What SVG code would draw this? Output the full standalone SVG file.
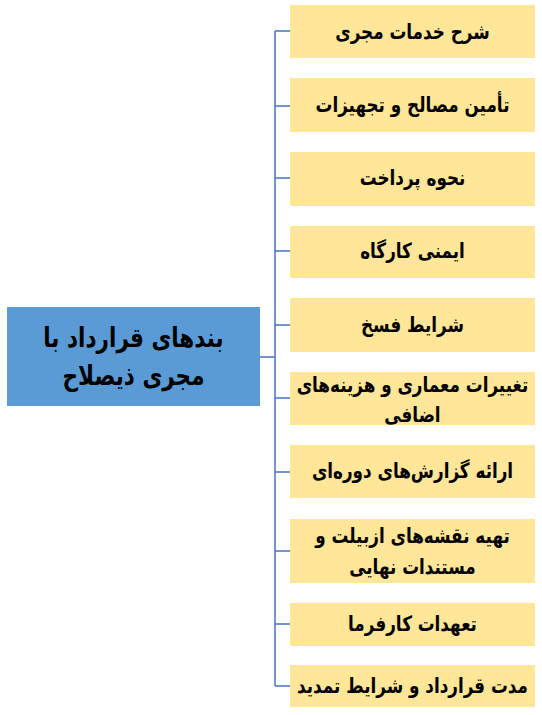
<svg xmlns="http://www.w3.org/2000/svg" width="542" height="715" viewBox="0 0 542 715">
<style>
.item{fill:#FFE699;}
.root{fill:#5B9BD5;}
.t{font-family:"DejaVu Sans",sans-serif;font-weight:bold;font-size:21px;fill:#000;text-anchor:middle;direction:rtl;dominant-baseline:central;}
.rt{font-size:27px;}
.c{stroke:#4A72C0;stroke-width:1.5;fill:none;}
</style>
<rect width="542" height="715" fill="#fff"/>
<g id="connectors">
<path class="c" d="M260 357H275M275 31V686"/>
<path class="c" d="M275 31H290M275 106H290M275 178H290M275 251H290M275 325H290M275 398H290M275 472H290M275 551H290M275 624H290M275 686H290"/>
</g>
<g id="root">
<rect class="root" x="7" y="307" width="253" height="99"/>
<g transform="matrix(0.8 0 0 1 26.7 0)">
<text class="t rt" x="133.5" y="338">بندهای قرارداد با</text>
<text class="t rt" x="133.5" y="376">مجری ذیصلاح</text>
</g>
</g>
<g id="n1"><rect class="item" x="290" y="5" width="245" height="53"/><g transform="matrix(0.8 0 0 1 82.5 0)"><text class="t" x="412.5" y="31">شرح خدمات مجری</text></g></g>
<g id="n2"><rect class="item" x="290" y="78" width="245" height="54"/><g transform="matrix(0.8 0 0 1 82.5 0)"><text class="t" x="412.5" y="104">تأمین مصالح و تجهیزات</text></g></g>
<g id="n3"><rect class="item" x="290" y="152" width="245" height="54"/><g transform="matrix(0.8 0 0 1 82.5 0)"><text class="t" x="412.5" y="177">نحوه پرداخت</text></g></g>
<g id="n4"><rect class="item" x="290" y="226" width="245" height="52"/><g transform="matrix(0.8 0 0 1 82.5 0)"><text class="t" x="412.5" y="250">ایمنی کارگاه</text></g></g>
<g id="n5"><rect class="item" x="290" y="298" width="245" height="54"/><g transform="matrix(0.8 0 0 1 82.5 0)"><text class="t" x="412.5" y="324">شرایط فسخ</text></g></g>
<g id="n6"><rect class="item" x="290" y="372" width="245" height="53"/><g transform="matrix(0.8 0 0 1 82.5 0)"><text class="t" x="412.5" y="384">تغییرات معماری و هزینه‌های</text><text class="t" x="412.5" y="414">اضافی</text></g></g>
<g id="n7"><rect class="item" x="290" y="445" width="245" height="53"/><g transform="matrix(0.8 0 0 1 82.5 0)"><text class="t" x="412.5" y="470">ارائه گزارش‌های دوره‌ای</text></g></g>
<g id="n8"><rect class="item" x="290" y="519" width="245" height="64"/><g transform="matrix(0.8 0 0 1 82.5 0)"><text class="t" x="412.5" y="535">تهیه نقشه‌های ازبیلت و</text><text class="t" x="412.5" y="566">مستندات نهایی</text></g></g>
<g id="n9"><rect class="item" x="290" y="603" width="245" height="43"/><g transform="matrix(0.8 0 0 1 82.5 0)"><text class="t" x="412.5" y="623">تعهدات کارفرما</text></g></g>
<g id="n10"><rect class="item" x="290" y="665" width="245" height="42"/><g transform="matrix(0.8 0 0 1 82.5 0)"><text class="t" x="412.5" y="685">مدت قرارداد و شرایط تمدید</text></g></g>
</svg>
